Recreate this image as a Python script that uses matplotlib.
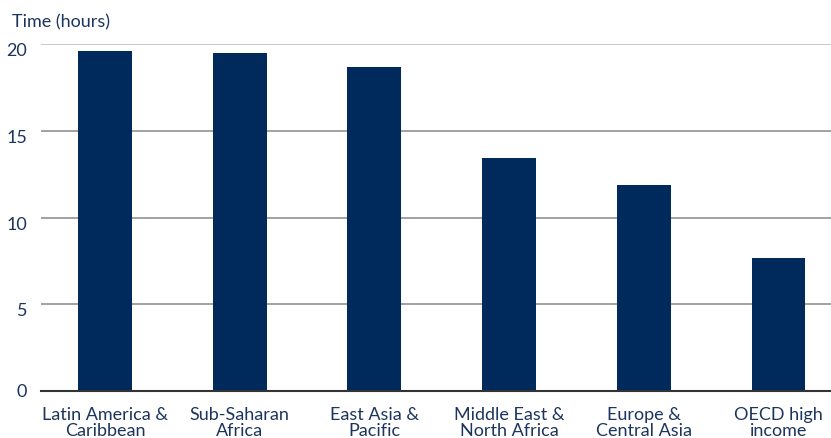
import matplotlib
matplotlib.use("Agg")
import matplotlib.pyplot as plt
from matplotlib.transforms import ScaledTranslation

categories = ["Latin America &\nCaribbean", "Sub-Saharan\nAfrica", "East Asia &\nPacific",
              "Middle East &\nNorth Africa", "Europe &\nCentral Asia", "OECD high\nincome"]
values = [19.65, 19.53, 18.72, 13.44, 11.87, 7.64]
yticks = [0, 5, 10, 15, 20]

navy = "#002a5c"
textc = "#1c355e"

plt.rcParams['font.family'] = ['Lato', 'DejaVu Sans']

fig = plt.figure(figsize=(8.31, 4.38), dpi=100)
ax = fig.add_axes([41/831, 1 - 390.7/438, 1 - 41/831, (390.7 - 44.5)/438])

x = list(range(len(categories)))
ax.bar(x, values, width=0.4, color=navy, zorder=3)
ax.set_ylim(0, 20)
ax.set_xlim(-0.475, 5.39)
ax.set_yticks(yticks)
ax.set_yticklabels([str(t) for t in yticks])
ax.set_xticks(x)
ax.set_xticklabels(categories, linespacing=1.0)
for t in yticks[1:]:
    ax.axhline(t, color="#c4c4c4" if t == yticks[-1] else "#9a9a9a", linewidth=1.3, zorder=0)
ax.tick_params(axis='both', length=0, labelsize=13, colors=textc)
ax.tick_params(axis='y', pad=10)
ax.tick_params(axis='x', pad=12)
for s in ["top", "right", "left"]:
    ax.spines[s].set_visible(False)
ax.spines["bottom"].set_color("#333333")
ax.spines["bottom"].set_linewidth(1.5)
ax.spines["bottom"].set_zorder(4)

fig.canvas.draw()
shift = ScaledTranslation(0, -5.5/100, fig.dpi_scale_trans)
for lab, t in zip(ax.get_yticklabels(), yticks):
    if t != 0:
        lab.set_transform(lab.get_transform() + shift)

fig.text(12/831, 1 - 22/438, "Time (hours)", fontsize=13, color=textc, va="center", ha="left")

fig.savefig("out.png", dpi=100)
